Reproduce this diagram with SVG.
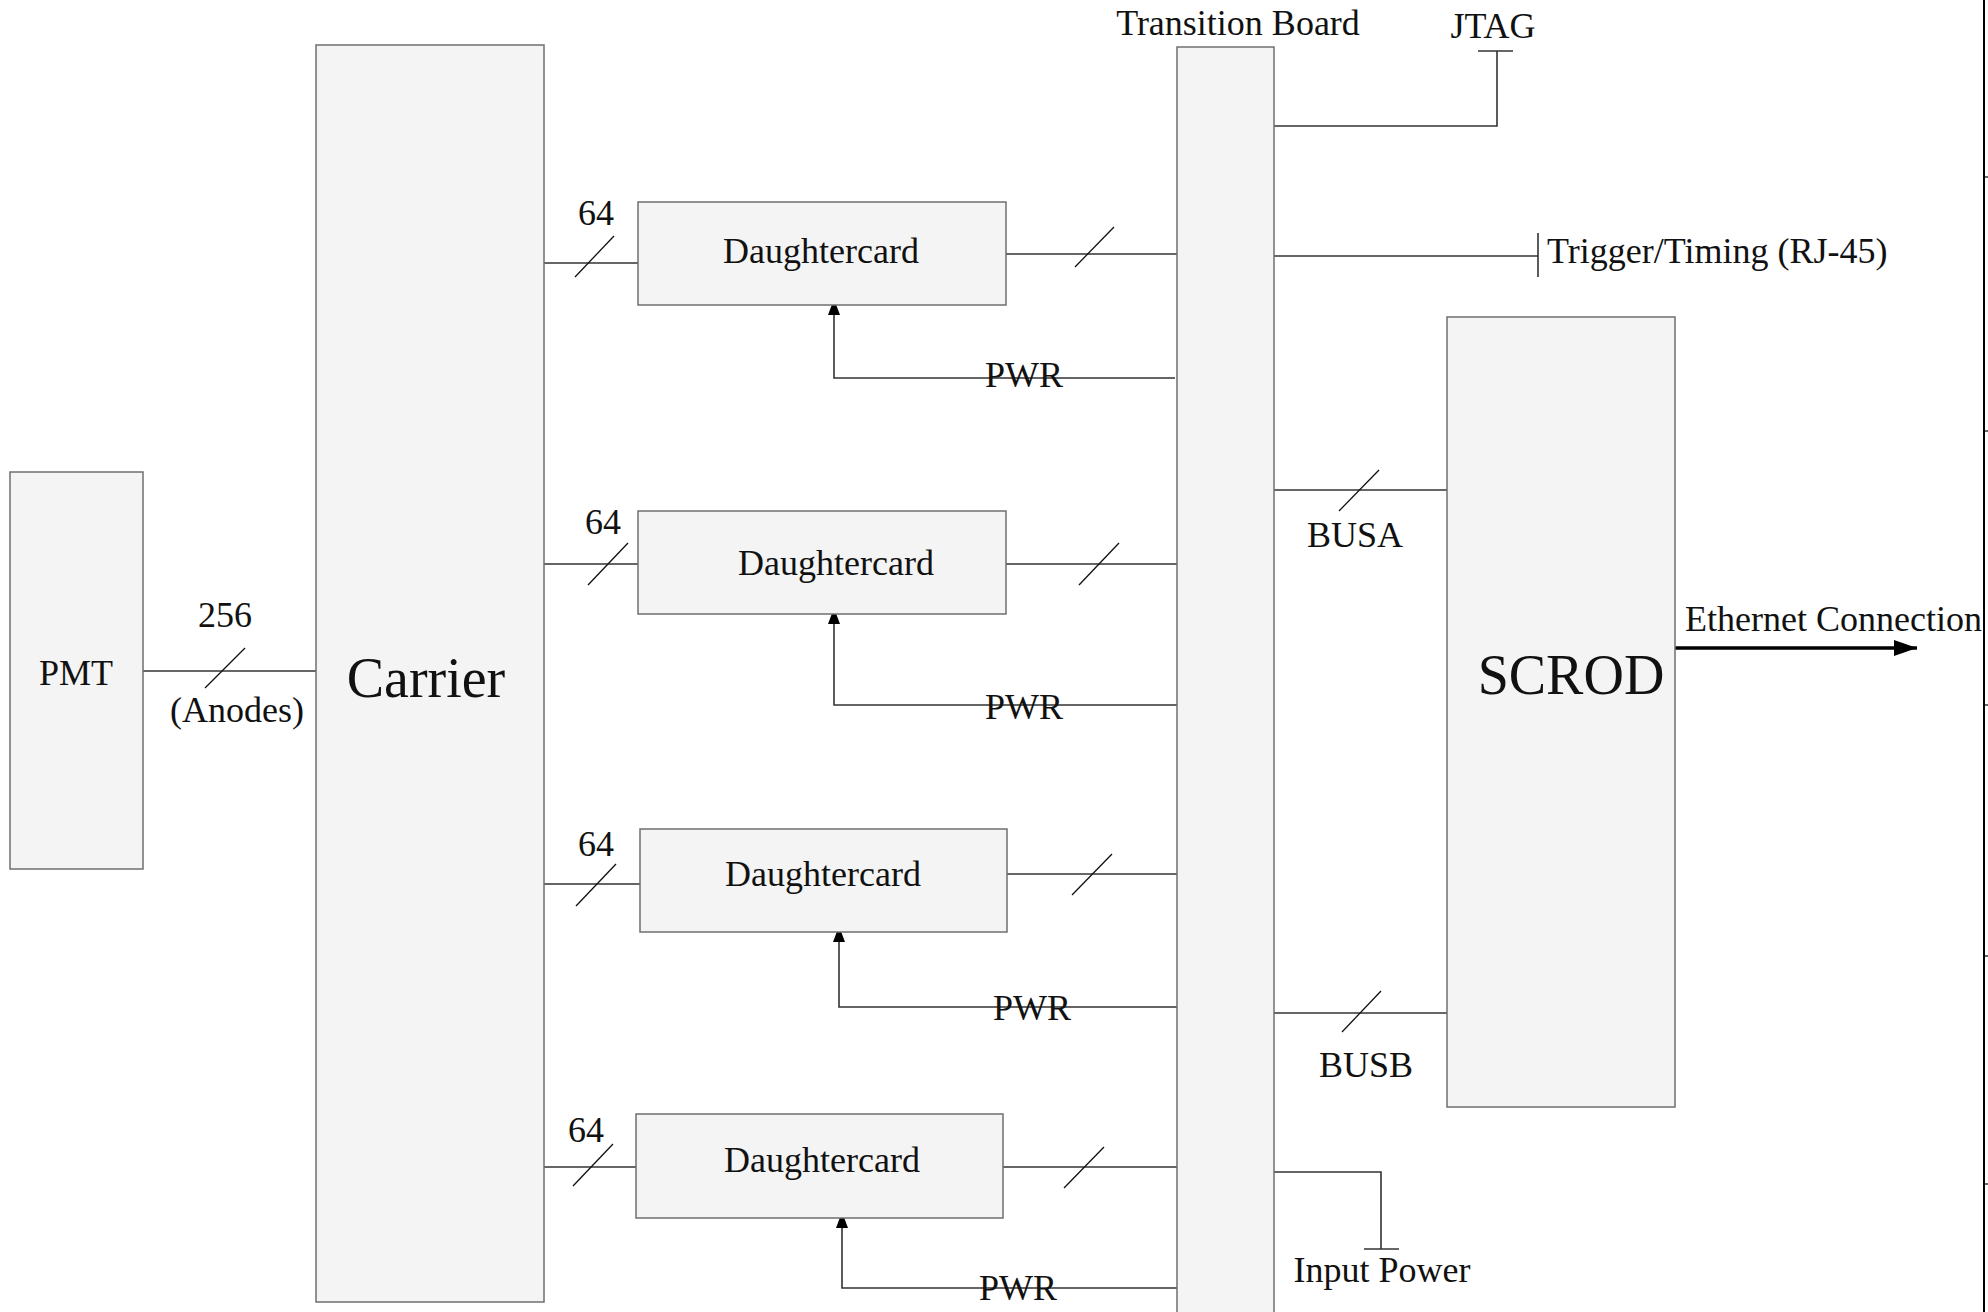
<svg xmlns="http://www.w3.org/2000/svg" width="1988" height="1312" viewBox="0 0 1988 1312">
<style>
.box{fill:#f4f4f4;stroke:#6f6f6f;stroke-width:1.5}
.ln{fill:none;stroke:#333;stroke-width:1.6}
.sl{fill:none;stroke:#111;stroke-width:1.3}
text{font-family:"Liberation Serif","Times New Roman",serif;fill:#111}
.t{font-size:36px}
.big{font-size:56px}
.m{text-anchor:middle}
</style>
<defs>
<marker id="ah" viewBox="0 0 12 16" refX="6" refY="1" markerWidth="12" markerHeight="16" markerUnits="userSpaceOnUse" orient="0">
<path d="M6,0 L12,16 L0,16 Z" fill="#000"/>
</marker>
<marker id="eth" viewBox="0 0 23 16" refX="23" refY="8" markerWidth="23" markerHeight="16" markerUnits="userSpaceOnUse" orient="auto">
<path d="M0,0 L23,8 L0,16 Z" fill="#000"/>
</marker>
</defs>
<rect width="1988" height="1312" fill="#fff"/>

<g id="connectors">
<!-- PMT to Carrier -->
<line class="ln" x1="143" y1="671" x2="316" y2="671"/>
<line class="sl" x1="205" y1="688" x2="245" y2="648"/>
<!-- Carrier to DCs -->
<line class="ln" x1="544" y1="263" x2="638" y2="263"/>
<line class="sl" x1="575" y1="277" x2="614" y2="236"/>
<line class="ln" x1="544" y1="564" x2="638" y2="564"/>
<line class="sl" x1="588" y1="585" x2="628" y2="543"/>
<line class="ln" x1="544" y1="884" x2="640" y2="884"/>
<line class="sl" x1="576" y1="906" x2="616" y2="864"/>
<line class="ln" x1="541" y1="1167" x2="636" y2="1167"/>
<line class="sl" x1="573" y1="1186" x2="613" y2="1144"/>
<!-- DCs to Transition Board -->
<line class="ln" x1="1006" y1="254" x2="1179" y2="254"/>
<line class="sl" x1="1075" y1="267" x2="1114" y2="227"/>
<line class="ln" x1="1006" y1="564" x2="1179" y2="564"/>
<line class="sl" x1="1079" y1="585" x2="1119" y2="543"/>
<line class="ln" x1="1007" y1="874" x2="1181" y2="874"/>
<line class="sl" x1="1072" y1="895" x2="1112" y2="854"/>
<line class="ln" x1="1003" y1="1167" x2="1178" y2="1167"/>
<line class="sl" x1="1064" y1="1188" x2="1104" y2="1147"/>
<!-- PWR lines -->
<polyline class="ln" points="1175,378 834,378 834,300" marker-end="url(#ah)"/>
<polyline class="ln" points="1180,705 834,705 834,609" marker-end="url(#ah)"/>
<polyline class="ln" points="1177,1007 839,1007 839,927" marker-end="url(#ah)"/>
<polyline class="ln" points="1181,1288 842,1288 842,1213" marker-end="url(#ah)"/>
<!-- JTAG -->
<polyline class="ln" points="1274,126 1497,126 1497,51"/>
<line class="ln" x1="1478" y1="51" x2="1513" y2="51"/>
<!-- Trigger -->
<line class="ln" x1="1274" y1="256" x2="1538" y2="256"/>
<line class="ln" x1="1538" y1="233" x2="1538" y2="277"/>
<!-- BUSA -->
<line class="ln" x1="1273" y1="490" x2="1447" y2="490"/>
<line class="sl" x1="1339" y1="511" x2="1379" y2="470"/>
<!-- BUSB -->
<line class="ln" x1="1272" y1="1013" x2="1447" y2="1013"/>
<line class="sl" x1="1342" y1="1032" x2="1381" y2="991"/>
<!-- Input Power -->
<polyline class="ln" points="1274,1172 1381,1172 1381,1249"/>
<line class="ln" x1="1364" y1="1249" x2="1399" y2="1249"/>
<!-- Ethernet -->
<line x1="1675" y1="648" x2="1917" y2="648" stroke="#000" stroke-width="3.5" marker-end="url(#eth)"/>
</g>

<g id="pmt">
<rect class="box" x="10" y="472" width="133" height="397"/>
<text class="t m" x="76" y="685">PMT</text>
</g>
<g id="carrier">
<rect class="box" x="316" y="45" width="228" height="1257"/>
<text class="big m" x="426" y="697">Carrier</text>
</g>
<g id="dc1">
<rect class="box" x="638" y="202" width="368" height="103"/>
<text class="t m" x="821" y="263">Daughtercard</text>
</g>
<g id="dc2">
<rect class="box" x="638" y="511" width="368" height="103"/>
<text class="t m" x="836" y="575">Daughtercard</text>
</g>
<g id="dc3">
<rect class="box" x="640" y="829" width="367" height="103"/>
<text class="t m" x="823" y="886">Daughtercard</text>
</g>
<g id="dc4">
<rect class="box" x="636" y="1114" width="367" height="104"/>
<text class="t m" x="822" y="1172">Daughtercard</text>
</g>
<g id="transition-board">
<rect class="box" x="1177" y="47" width="97" height="1280"/>
<text class="t m" x="1238" y="35">Transition Board</text>
</g>
<g id="scrod">
<rect class="box" x="1447" y="317" width="228" height="790"/>
<text class="big m" x="1571" y="694">SCROD</text>
</g>

<g id="labels">
<text class="t m" x="225" y="627">256</text>
<text class="t m" x="237" y="722">(Anodes)</text>
<text class="t m" x="596" y="225">64</text>
<text class="t m" x="603" y="534">64</text>
<text class="t m" x="596" y="856">64</text>
<text class="t m" x="586" y="1142">64</text>
<text class="t m" x="1024" y="387">PWR</text>
<text class="t m" x="1024" y="719">PWR</text>
<text class="t m" x="1032" y="1020">PWR</text>
<text class="t m" x="1018" y="1300">PWR</text>
<text class="t m" x="1493" y="38">JTAG</text>
<text class="t" x="1547" y="263">Trigger/Timing (RJ-45)</text>
<text class="t m" x="1355" y="547">BUSA</text>
<text class="t m" x="1366" y="1077">BUSB</text>
<text class="t m" x="1382" y="1282">Input Power</text>
<text class="t" x="1685" y="631">Ethernet Connection</text>
</g>

<g id="edge">
<line x1="1984" y1="0" x2="1984" y2="1312" stroke="#000" stroke-width="2"/>
<g stroke="#000" stroke-width="1.2">
<line x1="1984" y1="177" x2="1988" y2="177"/>
<line x1="1984" y1="431" x2="1988" y2="431"/>
<line x1="1984" y1="705" x2="1988" y2="705"/>
<line x1="1984" y1="956" x2="1988" y2="956"/>
<line x1="1984" y1="1184" x2="1988" y2="1184"/>
</g>
</g>
</svg>
